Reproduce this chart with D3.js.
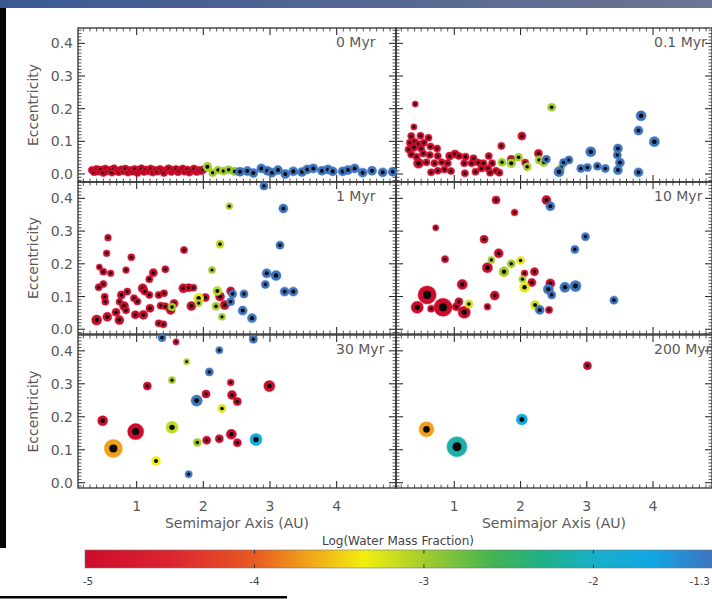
<!DOCTYPE html>
<html><head><meta charset="utf-8">
<script src="https://cdn.jsdelivr.net/npm/d3@7"></script>
<style>body{margin:0;background:#fff;}svg{display:block;}</style>
</head><body><svg id="c" width="712" height="599"></svg>
<script>
// Each body: [semimajor axis (AU), eccentricity, mass (Earth masses), log10 water mass fraction]
const snap0 = [
 [0.33,0.012,0.05,-5],[0.36,0.006,0.05,-5],[0.40,0.015,0.05,-5],[0.43,0.008,0.05,-5],[0.46,0.013,0.05,-5],
 [0.50,0.004,0.05,-5],[0.53,0.016,0.05,-5],[0.56,0.009,0.05,-5],[0.60,0.012,0.05,-5],[0.63,0.005,0.05,-5],
 [0.66,0.017,0.05,-5],[0.70,0.010,0.05,-5],[0.73,0.006,0.05,-5],[0.77,0.014,0.05,-5],[0.80,0.009,0.05,-5],
 [0.83,0.016,0.05,-5],[0.87,0.005,0.05,-5],[0.90,0.012,0.05,-5],[0.94,0.008,0.05,-5],[0.97,0.015,0.05,-5],
 [1.01,0.004,0.05,-5],[1.04,0.011,0.05,-5],[1.07,0.017,0.05,-5],[1.11,0.007,0.05,-5],[1.14,0.013,0.05,-5],
 [1.18,0.009,0.05,-5],[1.21,0.016,0.05,-5],[1.24,0.005,0.05,-5],[1.28,0.012,0.05,-5],[1.31,0.008,0.05,-5],
 [1.35,0.015,0.05,-5],[1.38,0.010,0.05,-5],[1.41,0.004,0.05,-5],[1.45,0.013,0.05,-5],[1.48,0.017,0.05,-5],
 [1.52,0.007,0.05,-5],[1.55,0.012,0.05,-5],[1.59,0.015,0.05,-5],[1.62,0.006,0.05,-5],[1.65,0.011,0.05,-5],
 [1.69,0.016,0.05,-5],[1.72,0.008,0.05,-5],[1.76,0.013,0.05,-5],[1.79,0.005,0.05,-5],[1.83,0.011,0.05,-5],
 [1.86,0.016,0.05,-5],[1.90,0.007,0.05,-5],[1.93,0.012,0.05,-5],[1.97,0.009,0.05,-5],[2.00,0.014,0.05,-5],
 [2.06,0.022,0.09,-3.0],[2.14,0.004,0.06,-3.0],[2.22,0.012,0.06,-3.0],[2.30,0.009,0.06,-3.0],[2.38,0.013,0.06,-2.95],[2.47,0.008,0.07,-2.9],
 [2.55,0.007,0.09,-1.3],[2.66,0.009,0.09,-1.3],[2.75,0.003,0.09,-1.3],[2.87,0.017,0.09,-1.3],[2.96,0.010,0.09,-1.3],
 [3.03,0.004,0.09,-1.3],[3.12,0.012,0.09,-1.3],[3.23,0.000,0.09,-1.3],[3.35,0.008,0.09,-1.3],[3.48,0.006,0.09,-1.3],
 [3.56,0.014,0.09,-1.3],[3.65,0.017,0.09,-1.3],[3.78,0.010,0.09,-1.3],[3.87,0.014,0.09,-1.3],[3.94,0.008,0.09,-1.3],
 [4.09,0.008,0.09,-1.3],[4.17,0.012,0.09,-1.3],[4.27,0.017,0.09,-1.3],[4.39,0.004,0.09,-1.3],[4.53,0.010,0.09,-1.3],
 [4.69,0.005,0.09,-1.3],[4.84,0.007,0.09,-1.3]
];
const snap01 = [
 [0.41,0.214,0.027,-5],[0.39,0.144,0.027,-5],[0.35,0.116,0.043,-5],[0.49,0.117,0.043,-5],[0.61,0.111,0.043,-5],
 [0.33,0.096,0.043,-5],[0.40,0.099,0.043,-5],[0.45,0.092,0.043,-5],[0.54,0.096,0.043,-5],[0.31,0.075,0.043,-5],
 [0.39,0.082,0.064,-5],[0.50,0.078,0.043,-5],[0.64,0.084,0.043,-5],[0.74,0.078,0.043,-5],[0.35,0.060,0.043,-5],
 [0.43,0.053,0.043,-5],[0.53,0.063,0.043,-5],[0.63,0.058,0.043,-5],[0.75,0.055,0.043,-5],[0.46,0.033,0.125,-5],
 [0.58,0.036,0.043,-5],[0.70,0.033,0.043,-5],[0.81,0.036,0.043,-5],[0.90,0.033,0.043,-5],[0.65,0.005,0.043,-5],
 [0.75,0.010,0.043,-5],[0.85,0.014,0.043,-5],[0.95,0.009,0.043,-5],[0.93,0.055,0.064,-5],[1.01,0.061,0.064,-5],
 [1.07,0.055,0.043,-5],[1.17,0.053,0.043,-5],[1.29,0.048,0.043,-5],[1.15,0.033,0.043,-5],[1.26,0.033,0.043,-5],
 [1.36,0.035,0.043,-5],[1.44,0.033,0.043,-5],[1.52,0.055,0.043,-5],[1.16,0.002,0.043,-5],[1.32,0.007,0.043,-5],
 [1.41,0.017,0.043,-5],[1.51,0.017,0.043,-5],[1.54,0.004,0.043,-5],[1.63,0.010,0.043,-5],[1.68,0.004,0.043,-5],
 [1.71,0.086,0.043,-5],[1.57,0.033,0.043,-5],[1.86,0.045,0.064,-4.8],[2.02,0.116,0.064,-5],[2.07,0.035,0.043,-4.8],
 [2.27,0.063,0.064,-5],
 [2.47,0.204,0.064,-3.0],[1.72,0.036,0.064,-3.0],[1.86,0.033,0.09,-3.0],[1.97,0.051,0.064,-3.0],[2.10,0.022,0.064,-3.0],
 [2.28,0.043,0.064,-3.0],[2.35,0.035,0.064,-3.0],[2.62,0.022,0.043,-3.0],
 [2.39,0.045,0.064,-1.3],[2.58,0.007,0.125,-1.3],[2.65,0.035,0.064,-1.3],[2.73,0.043,0.064,-1.3],[2.91,0.017,0.064,-1.3],
 [3.01,0.020,0.064,-1.3],[3.06,0.068,0.125,-1.3],[3.16,0.024,0.064,-1.3],[3.28,0.017,0.064,-1.3],[3.47,0.078,0.09,-1.3],
 [3.46,0.058,0.064,-1.3],[3.50,0.035,0.09,-1.3],[3.47,0.012,0.09,-1.3],[3.78,0.005,0.09,-1.3],[3.78,0.133,0.09,-1.3],
 [3.82,0.178,0.125,-1.3],[4.02,0.099,0.125,-1.3]
];
const snap1 = [
 [0.44,0.190,0.027,-5],[0.57,0.280,0.035,-5],[0.55,0.232,0.035,-5],[0.50,0.176,0.043,-5],[0.61,0.171,0.035,-5],
 [0.92,0.220,0.043,-5],[0.84,0.181,0.035,-5],[0.43,0.128,0.043,-5],[0.50,0.138,0.043,-5],[0.52,0.099,0.043,-5],
 [0.53,0.084,0.043,-5],[0.40,0.028,0.125,-5],[0.56,0.038,0.09,-5],[0.74,0.028,0.09,-5],[0.69,0.052,0.064,-5],
 [0.81,0.071,0.09,-5],[0.77,0.105,0.064,-5],[0.84,0.058,0.043,-5],[0.86,0.115,0.043,-5],[0.74,0.084,0.035,-5],
 [0.96,0.095,0.043,-5],[0.98,0.044,0.064,-5],[1.01,0.085,0.043,-5],[1.10,0.044,0.09,-5],[1.09,0.125,0.09,-5],
 [1.12,0.115,0.043,-5],[1.20,0.064,0.064,-5],[1.19,0.105,0.043,-5],[1.19,0.153,0.043,-5],[1.25,0.173,0.064,-5],
 [1.33,0.105,0.043,-5],[1.33,0.018,0.043,-5],[1.40,0.015,0.043,-5],[1.36,0.072,0.043,-5],[1.41,0.110,0.043,-5],
 [1.43,0.183,0.043,-5],[1.43,0.070,0.043,-5],[1.51,0.059,0.09,-5],[1.56,0.079,0.064,-5],[1.71,0.242,0.043,-5],
 [1.70,0.125,0.09,-5],[1.78,0.127,0.064,-5],[1.85,0.127,0.043,-5],[1.82,0.071,0.09,-5],[2.03,0.097,0.064,-5],
 [2.25,0.100,0.09,-5],[2.32,0.074,0.09,-5],[2.41,0.117,0.064,-5],
 [1.53,0.068,0.064,-3.0],[1.93,0.095,0.125,-3.3],[1.93,0.080,0.043,-3.0],[2.13,0.181,0.043,-3.0],[2.21,0.117,0.09,-3.1],
 [2.25,0.260,0.064,-3.15],[2.19,0.070,0.064,-3.0],[2.28,0.038,0.043,-3.0],[2.39,0.376,0.035,-3.0],
 [2.41,0.084,0.064,-1.3],[2.44,0.108,0.064,-1.3],[2.61,0.108,0.064,-1.3],[2.59,0.057,0.09,-1.3],[2.73,0.034,0.09,-1.3],
 [2.91,0.438,0.064,-1.3],[3.20,0.369,0.09,-1.3],[3.15,0.257,0.064,-1.3],[2.95,0.171,0.09,-1.3],[3.09,0.164,0.125,-1.3],
 [2.93,0.137,0.064,-1.3],[3.22,0.115,0.09,-1.3],[3.35,0.115,0.09,-1.3]
];
const snap10 = [
 [0.72,0.310,0.027,-5],[0.86,0.214,0.043,-5],[0.59,0.105,0.73,-5],[0.44,0.067,0.216,-5],[0.65,0.063,0.043,-5],
 [0.83,0.067,0.73,-5],[1.03,0.069,0.064,-5],[1.07,0.084,0.064,-5],[1.12,0.137,0.125,-5],[1.15,0.052,0.216,-5],
 [1.50,0.069,0.035,-5],[1.61,0.103,0.09,-5],[1.50,0.188,0.125,-5],[1.45,0.275,0.064,-5],[1.67,0.232,0.09,-5],
 [1.63,0.395,0.064,-5],[1.91,0.357,0.035,-5],[2.39,0.395,0.09,-5],[2.06,0.171,0.035,-5],[2.21,0.176,0.064,-5],
 [2.17,0.143,0.064,-5],[2.45,0.140,0.09,-5],[2.43,0.059,0.043,-5],
 [1.22,0.077,0.064,-3.2],[1.56,0.212,0.043,-3.0],[1.75,0.176,0.125,-3.0],[1.86,0.200,0.064,-3.0],[2.00,0.210,0.064,-3.3],
 [2.03,0.153,0.043,-3.0],[2.06,0.128,0.125,-3.3],[2.22,0.074,0.09,-3.2],
 [2.45,0.376,0.09,-1.3],[2.29,0.059,0.09,-1.3],[2.42,0.122,0.125,-1.3],[2.47,0.105,0.064,-1.3],[2.67,0.128,0.125,-1.3],
 [2.83,0.132,0.166,-1.3],[2.82,0.244,0.064,-1.3],[2.98,0.283,0.064,-1.3],[3.41,0.089,0.064,-1.3]
];
const snap30 = [
 [1.38,0.440,0.064,-1.3],[2.75,0.435,0.064,-1.3],[2.24,0.402,0.043,-1.3],[2.09,0.336,0.064,-1.3],[1.90,0.249,0.166,-1.3],
 [1.78,0.026,0.043,-1.3],
 [1.59,0.427,0.027,-5],[1.16,0.293,0.064,-5],[2.41,0.304,0.035,-5],[2.99,0.293,0.166,-5],[2.04,0.269,0.064,-5],
 [2.43,0.266,0.09,-5],[2.51,0.246,0.064,-5],[0.49,0.188,0.125,-5],[0.985,0.155,0.51,-5],[2.05,0.129,0.064,-5],
 [2.24,0.133,0.064,-5],[2.42,0.147,0.125,-5],[2.51,0.121,0.064,-5],
 [1.75,0.367,0.027,-3.0],[1.53,0.311,0.043,-3.0],[2.28,0.225,0.064,-3.25],[1.53,0.168,0.216,-3.15],[1.29,0.066,0.09,-3.35],
 [1.91,0.122,0.064,-3.0],
 [0.65,0.104,0.73,-3.7],[2.79,0.131,0.216,-1.75]
];
const snap200 = [
 [0.58,0.162,0.42,-3.7],[1.04,0.109,1.0,-2.15],[2.02,0.192,0.166,-1.75],[3.01,0.355,0.064,-5]
];
const panelLabels = ["0 Myr","0.1 Myr","1 Myr","10 Myr","30 Myr","200 Myr"];
const panelData = [snap0, snap01, snap1, snap10, snap30, snap200];
const xTicks = [1,2,3,4];
const yTicks = [0,0.1,0.2,0.3,0.4];
const cbTicks = [-5,-4,-3,-2,-1.3];
const cbStops = [-5,-4.5,-4,-3.7,-3.35,-3,-2.6,-2.3,-2,-1.65,-1.3];
const cbColors = ["#cc0c2c","#dc2430","#e85a22","#f0a018","#f2ee10","#a4cc2c","#44b452","#20b088","#18b0c8","#12a6e4","#3c74be"];

const svg = d3.select("#c");
const defs = svg.append("defs");
const ban = defs.append("linearGradient").attr("id","ban");
ban.append("stop").attr("offset","0%").attr("stop-color","#3a5993");
ban.append("stop").attr("offset","100%").attr("stop-color","#6c7592");
svg.append("rect").attr("x",0).attr("y",0).attr("width",712).attr("height",8).attr("fill","url(#ban)");
svg.append("rect").attr("x",0).attr("y",8).attr("width",6).attr("height",540).attr("fill","#050505");
svg.append("rect").attr("x",0).attr("y",596).attr("width",287).attr("height",2.5).attr("fill","#000");

const cols = [{x0:78,x1:396},{x0:396,x1:712}];
const rows = [{y0:28,y1:182,lo:-0.0245,hi:0.447},{y0:182,y1:334,lo:-0.0145,hi:0.45},{y0:335,y1:488,lo:-0.016,hi:0.448}];
const xDom = [0.12,4.89];
const color = d3.scaleLinear().domain(cbStops).range(cbColors);
const rScale = d3.scalePow().exponent(1/3).domain([0,1]).range([0,10]);
const txt = "#5a5a5a", ax = "#2e2e2e";
const font = "DejaVu Sans, sans-serif";

const panels = panelData.map((d,i)=>{
  const c = cols[i%2], r = rows[Math.floor(i/2)];
  return {data:d, label:panelLabels[i], c, r, ci:i%2, ri:Math.floor(i/2),
    x: d3.scaleLinear().domain(xDom).range([c.x0,c.x1]),
    y: d3.scaleLinear().domain([r.lo,r.hi]).range([r.y1,r.y0])};
});

const gF = svg.append("g");
panels.forEach(p=>{
  const g = gF.append("g");
  const {x0,x1} = p.c, {y0,y1} = p.r;
  g.append("rect").attr("x",x0).attr("y",y0).attr("width",x1-x0).attr("height",y1-y0)
    .attr("fill","none").attr("stroke",ax).attr("stroke-width",1.3);
  const xmin = d3.range(2,49).map(v=>v/10).filter(v=>v>xDom[0]&&v<xDom[1]);
  xmin.forEach(v=>{
    const major = Math.abs(v-Math.round(v))<1e-6;
    const L = major?7:3.5, X = p.x(v);
    g.append("line").attr("x1",X).attr("x2",X).attr("y1",y1).attr("y2",y1-L).attr("stroke",ax).attr("stroke-width",major?1.1:0.8);
    g.append("line").attr("x1",X).attr("x2",X).attr("y1",y0).attr("y2",y0+L).attr("stroke",ax).attr("stroke-width",major?1.1:0.8);
  });
  const ymin = d3.range(-2,45).map(v=>v/100).filter(v=>v>p.r.lo&&v<p.r.hi);
  ymin.forEach(v=>{
    const major = Math.abs(v*10-Math.round(v*10))<1e-6;
    const L = major?7:3.5, Y = p.y(v);
    g.append("line").attr("y1",Y).attr("y2",Y).attr("x1",x0).attr("x2",x0+L).attr("stroke",ax).attr("stroke-width",major?1.1:0.8);
    g.append("line").attr("y1",Y).attr("y2",Y).attr("x1",x1).attr("x2",x1-L).attr("stroke",ax).attr("stroke-width",major?1.1:0.8);
  });
  g.append("text").attr("x",x0+258).attr("y",y0+19).attr("font-family",font).attr("font-size",14)
    .attr("fill",txt).text(p.label);
  if(p.ci===0){
    yTicks.forEach(v=>{
      g.append("text").attr("x",73).attr("y",p.y(v)).attr("dy","0.36em").attr("text-anchor","end")
        .attr("font-family",font).attr("font-size",14).attr("fill",txt).text(v.toFixed(1));
    });
    g.append("text").attr("transform",`translate(38,${(y0+y1)/2}) rotate(-90)`).attr("text-anchor","middle")
      .attr("font-family",font).attr("font-size",14).attr("fill",txt).text("Eccentricity");
  }
  if(p.ri===2){
    xTicks.forEach(v=>{
      g.append("text").attr("x",p.x(v)).attr("y",511).attr("text-anchor","middle")
        .attr("font-family",font).attr("font-size",14).attr("fill",txt).text(v);
    });
    g.append("text").attr("x",(x0+x1)/2).attr("y",528).attr("text-anchor","middle")
      .attr("font-family",font).attr("font-size",14).attr("fill",txt).text("Semimajor Axis (AU)");
  }
});

const gP = svg.append("g");
panels.forEach(p=>{
  const pts = p.data.map(d=>({a:d[0],e:d[1],m:d[2],w:d[3]}));
  const g = gP.append("g");
  const s = g.selectAll("g").data(pts).join("g").attr("transform",d=>`translate(${p.x(d.a)},${p.y(d.e)})`);
  s.append("circle").attr("r",d=>rScale(d.m)+0.6).attr("fill",d=>color(d.w)).attr("opacity",0.45);
  s.append("circle").attr("r",d=>rScale(d.m)).attr("fill",d=>color(d.w));
  s.append("circle").attr("r",d=>Math.max(1.2,rScale(d.m)*0.45)).attr("fill","#0a0a0a");
});

// colour bar
const cbx = d3.scaleLinear().domain([-5,-1.3]).range([85,712]);
const grad = defs.append("linearGradient").attr("id","cb");
cbStops.forEach((v,i)=>grad.append("stop").attr("offset",((v+5)/3.7*100)+"%").attr("stop-color",cbColors[i]));
svg.append("rect").attr("x",cbx(-5)).attr("y",550).attr("width",cbx(-1.3)-cbx(-5)).attr("height",18)
  .attr("fill","url(#cb)").attr("stroke","#777").attr("stroke-width",0.6);
cbTicks.forEach(v=>{
  if(v>-5 && v<-1.5){
    svg.append("line").attr("x1",cbx(v)).attr("x2",cbx(v)).attr("y1",550).attr("y2",553.5).attr("stroke","#333");
    svg.append("line").attr("x1",cbx(v)).attr("x2",cbx(v)).attr("y1",568).attr("y2",564.5).attr("stroke","#333");
  }
  const last = v===-1.3;
  svg.append("text").attr("x",last?710:cbx(v) + (v===-5?3:0)).attr("y",585)
    .attr("text-anchor",last?"end":"middle")
    .attr("font-family",font).attr("font-size",10.5).attr("fill","#444").text(String(v));
});
svg.append("text").attr("x",398).attr("y",545).attr("text-anchor","middle").attr("font-family",font)
  .attr("font-size",12).attr("fill","#444").text("Log(Water Mass Fraction)");
</script></body></html>
